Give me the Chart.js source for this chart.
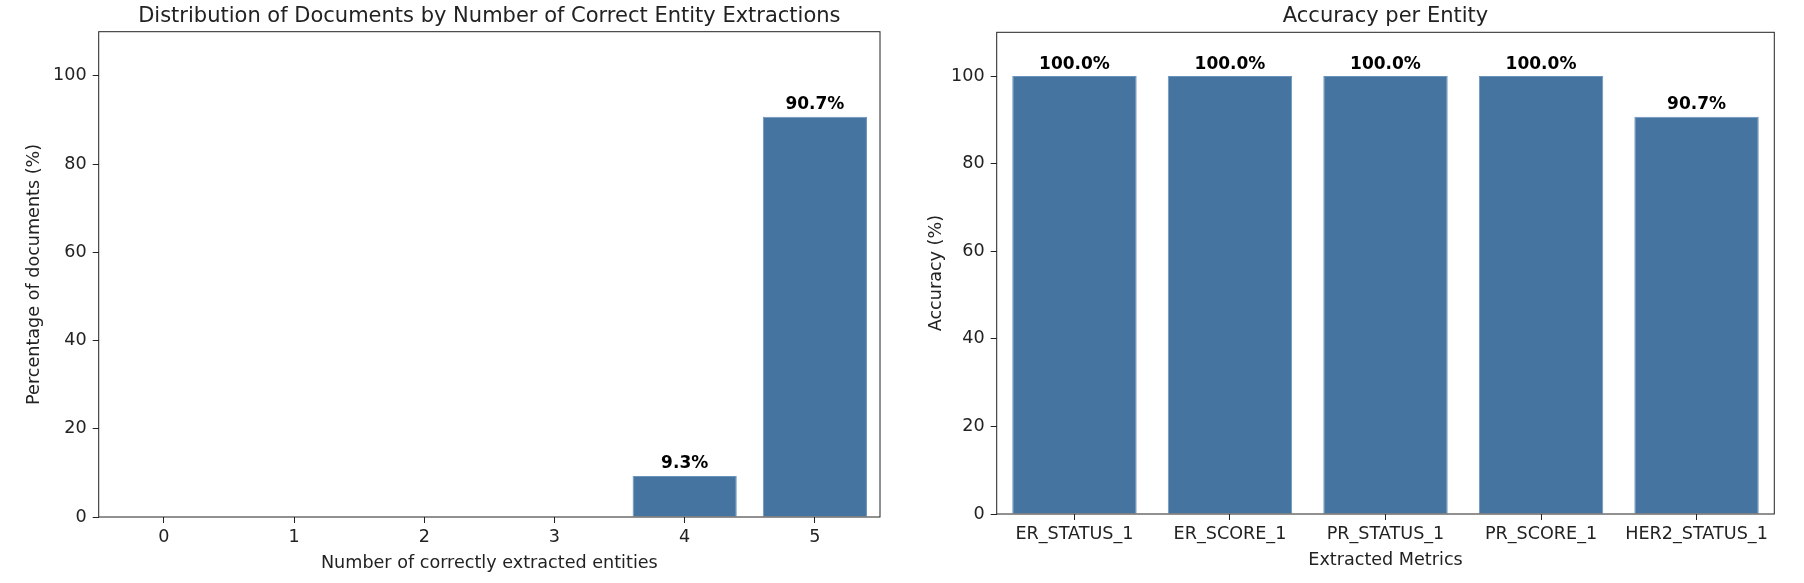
<!DOCTYPE html>
<html>
<head>
<meta charset="utf-8">
<script src="https://cdn.jsdelivr.net/npm/chart.js@4.4.1/dist/chart.umd.min.js"></script>
<style>
  html, body { margin: 0; padding: 0; background: #fff; }
  #wrap { position: relative; width: 1804px; height: 583px; overflow: hidden; }
  canvas { position: absolute; top: 0; }
</style>
</head>
<body>
<div id="wrap">
  <canvas id="chart-dist" width="902" height="583" style="left:0px"></canvas>
  <canvas id="chart-acc" width="902" height="583" style="left:902px"></canvas>
</div>
<script>
// left chart: how many entities came out right per document
const nCorrect = ['0', '1', '2', '3', '4', '5'];
const pctDocs = [0, 0, 0, 0, 9.3, 90.7];

// right chart: accuracy for each entity
const entidades = ['ER_STATUS_1', 'ER_SCORE_1', 'PR_STATUS_1', 'PR_SCORE_1', 'HER2_STATUS_1'];
const accuracy = [100, 100, 100, 100, 90.7];

const yTicks = [0, 20, 40, 60, 80, 100];

const azul = '#4674a1';
const tinta = '#222222';

Chart.defaults.font.family = "'DejaVu Sans', sans-serif";
Chart.defaults.color = tinta;

// box around the plot area, like matplotlib spines
const marco = {
  id: 'marco',
  afterDatasetsDraw(chart) {
    const { ctx, chartArea: a } = chart;
    ctx.save();
    ctx.strokeStyle = tinta;
    ctx.lineWidth = 1;
    ctx.strokeRect(a.left, a.top, a.right - a.left, a.bottom - a.top);
    ctx.restore();
  }
};

// "xx.x%" text over each bar
const etiquetas = {
  id: 'etiquetas',
  afterDatasetsDraw(chart) {
    const { ctx } = chart;
    const meta = chart.getDatasetMeta(0);
    const vals = chart.data.datasets[0].data;
    ctx.save();
    ctx.font = "bold 17px 'DejaVu Sans'";
    ctx.fillStyle = '#000';
    ctx.textAlign = 'center';
    ctx.textBaseline = 'alphabetic';
    meta.data.forEach((bar, i) => {
      if (!vals[i]) return;
      ctx.fillText(vals[i].toFixed(1) + '%', bar.x, bar.y - 7.5);
    });
    ctx.restore();
  }
};

const makeChart = (id, labels, values, cfg) => {
  const ctx = document.getElementById(id).getContext('2d');
  return new Chart(ctx, {
    type: 'bar',
    data: {
      labels: labels,
      datasets: [{
        data: values,
        backgroundColor: azul,
        borderColor: '#6b93bb',
        borderWidth: 1,
        categoryPercentage: 1.0,
        barPercentage: 0.8
      }]
    },
    options: {
      responsive: false,
      animation: false,
      devicePixelRatio: 1,
      layout: { padding: { top: 0, left: 0, bottom: 0, right: cfg.padRight } },
      plugins: {
        legend: { display: false },
        tooltip: { enabled: false },
        title: {
          display: true,
          text: cfg.title,
          fullSize: false,
          color: tinta,
          font: { size: 21, weight: 'normal' },
          padding: { top: cfg.titleTop, bottom: cfg.titleBottom }
        }
      },
      scales: {
        x: {
          offset: true,
          border: { display: false },
          grid: { offset: false, drawOnChartArea: false, drawTicks: true, tickLength: 6, tickColor: tinta, lineWidth: 1 },
          ticks: { padding: cfg.xTickPad, font: { size: 17.6 }, color: tinta, maxRotation: 0, autoSkip: false },
          title: { display: true, text: cfg.xTitle, font: { size: 17.6 }, color: tinta, padding: { top: 0, bottom: cfg.xTitlePad } },
          afterFit: (s) => { s.height = cfg.xHeight; }
        },
        y: {
          min: 0,
          max: 110,
          border: { display: false },
          grid: { drawOnChartArea: false, drawTicks: true, tickLength: 6, tickColor: tinta, lineWidth: 1 },
          afterBuildTicks: (s) => { s.ticks = yTicks.map(v => ({ value: v })); },
          ticks: { padding: 6, font: { size: 17.6 }, color: tinta },
          title: { display: true, text: cfg.yTitle, font: { size: 17.6 }, color: tinta, padding: { top: 23.7, bottom: 0 } },
          afterFit: (s) => { s.width = cfg.yWidth; }
        }
      }
    },
    plugins: [marco, etiquetas]
  });
};

makeChart('chart-dist', nCorrect, pctDocs, {
  title: 'Distribution of Documents by Number of Correct Entity Extractions',
  xTitle: 'Number of correctly extracted entities',
  yTitle: 'Percentage of documents (%)',
  padRight: 22,
  titleTop: 3.5,
  titleBottom: 3,
  xHeight: 66,
  xTickPad: 3.5,
  xTitlePad: 9,
  yWidth: 98.7
});

makeChart('chart-acc', entidades, accuracy, {
  title: 'Accuracy per Entity',
  xTitle: 'Extracted Metrics',
  yTitle: 'Accuracy (%)',
  padRight: 29.7,
  titleTop: 4,
  titleBottom: 3.1,
  xHeight: 69,
  xTickPad: 3.4,
  xTitlePad: 12.5,
  yWidth: 94.7
});
</script>
</body>
</html>
